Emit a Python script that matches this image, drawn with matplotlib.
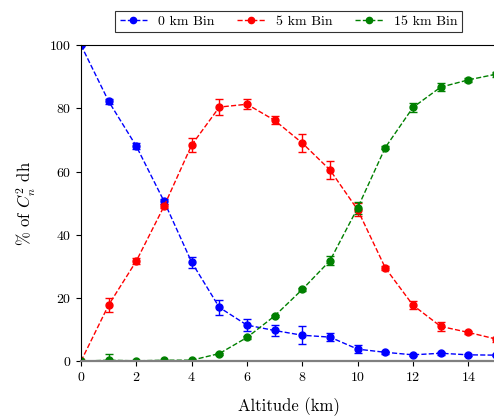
import numpy as np
import matplotlib
matplotlib.use('Agg')
import matplotlib.pyplot as plt

plt.rcParams['font.family'] = 'cmr10'
plt.rcParams['mathtext.fontset'] = 'cm'
plt.rcParams['axes.formatter.use_mathtext'] = True

alt = np.arange(0, 16)

bin0 = [100, 82.2, 68.0, 50.6, 31.3, 17.0, 11.4, 9.7, 8.2, 7.6, 3.8, 2.8, 2.0, 2.5, 2.0, 1.9]
bin0_err = [0.3, 0.8, 1.0, 0.8, 1.8, 2.3, 1.8, 1.8, 2.8, 1.3, 1.3, 0.5, 0.4, 0.5, 0.4, 0.4]

bin5 = [0, 17.8, 31.7, 49.0, 68.4, 80.4, 81.3, 76.2, 69.0, 60.5, 47.9, 29.5, 17.7, 11.0, 9.1, 7.0]
bin5_err = [0.2, 2.3, 1.0, 0.6, 2.3, 2.5, 1.5, 1.3, 2.8, 2.8, 2.0, 0.6, 1.2, 1.5, 0.5, 0.8]

bin15 = [0, 0.3, 0.1, 0.3, 0.3, 2.4, 7.5, 14.3, 22.7, 31.8, 48.5, 67.6, 80.3, 86.7, 89.0, 90.8]
bin15_err = [0.2, 2.0, 0.2, 0.2, 0.2, 0.3, 0.4, 0.4, 0.5, 1.5, 2.0, 0.6, 1.5, 1.2, 0.7, 0.8]

fig = plt.figure(figsize=(4.94, 4.18), dpi=100)
ax = fig.add_axes([0.164, 0.136, 0.84, 0.756])

kw = dict(fmt='o--', ms=5, lw=1, capsize=3, elinewidth=1)
h0 = ax.errorbar(alt, bin0, yerr=bin0_err, color='b', label='0 km Bin', **kw)
h5 = ax.errorbar(alt, bin5, yerr=bin5_err, color='r', label='5 km Bin', **kw)
h15 = ax.errorbar(alt, bin15, yerr=bin15_err, color='g', label='15 km Bin', **kw)

ax.set_xlim(0, 15)
ax.set_ylim(0, 100)
ax.set_xticks(np.arange(0, 15, 2))
ax.set_yticks(np.arange(0, 101, 20))
ax.tick_params(labelsize=10)
ax.spines['right'].set_visible(False)
ax.spines['bottom'].set_color('#808080')
ax.spines['bottom'].set_linewidth(1.6)

ax.set_xlabel('Altitude (km)', fontsize=12, labelpad=10)
ax.set_ylabel('% of $C_n^2$ dh', fontsize=12, labelpad=8)

# legend shows only line + marker, no error bars
leg = ax.legend([h0[0], h5[0], h15[0]], ['0 km Bin', '5 km Bin', '15 km Bin'],
                loc='lower center', bbox_to_anchor=(0.5, 1.02), ncol=3,
                fontsize=10, fancybox=False, edgecolor='black',
                handlelength=2, columnspacing=1.6, borderpad=0.3, markerscale=0.9)
leg.get_frame().set_linewidth(0.8)

fig.savefig('out.png', dpi=100)
